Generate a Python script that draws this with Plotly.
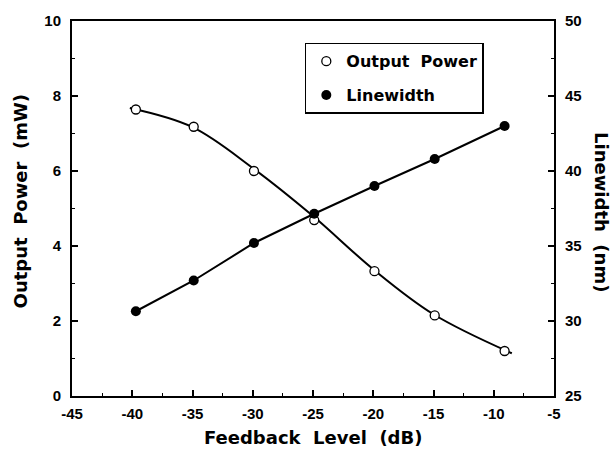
import plotly.graph_objects as go

# ---- data ----
feedback_db = [-39.7, -34.9, -29.9, -24.9, -19.9, -14.9, -9.1]
output_power = [7.64, 7.18, 6.00, 4.69, 3.33, 2.15, 1.20]
linewidth_nm = [30.65, 32.7, 35.2, 37.15, 39.0, 40.8, 43.0]

# smooth fitted curve through the output-power data
fit_db = [-40.2, -35.0, -30.0, -25.0, -20.0, -15.0, -8.5]
fit_power = [7.68, 7.17, 6.08, 4.80, 3.38, 2.18, 1.14]

x_ticks = [-45, -40, -35, -30, -25, -20, -15, -10, -5]
y_ticks = [0, 2, 4, 6, 8, 10]
y2_ticks = [25, 30, 35, 40, 45, 50]


def bold_labels(vals):
    return [f"<b>{v}</b>" for v in vals]


TICK_FONT = dict(family="Liberation Sans, Arial", size=15, color="black")
TITLE_FONT = dict(family="DejaVu Sans", size=18, color="black", weight="bold")
NB = "\u00a0"

fig = go.Figure()

fig.add_trace(go.Scatter(
    x=fit_db, y=fit_power, mode="lines", line=dict(color="black", width=2, shape="spline", smoothing=1.0),
    showlegend=False, hoverinfo="skip"))
fig.add_trace(go.Scatter(
    x=feedback_db, y=linewidth_nm, yaxis="y2", mode="lines", line=dict(color="black", width=2),
    showlegend=False, hoverinfo="skip"))

fig.add_trace(go.Scatter(
    x=feedback_db, y=output_power, mode="markers", name=f"Output{NB} Power",
    marker=dict(symbol="circle", size=9, color="white", line=dict(color="black", width=1.3)),
    legendgroup="a"))
fig.add_trace(go.Scatter(
    x=feedback_db, y=linewidth_nm, yaxis="y2", mode="markers", name="Linewidth",
    marker=dict(symbol="circle", size=10, color="black", line=dict(color="black", width=0)),
    legendgroup="b"))

common_axis = dict(
    showgrid=False, zeroline=False, showline=True, linecolor="black", linewidth=2,
    ticks="inside", ticklen=6, tickwidth=1.5, tickcolor="black", tickfont=TICK_FONT,
)

fig.update_layout(
    width=611, height=454,
    margin=dict(l=72, r=57, t=14, b=58),
    paper_bgcolor="white", plot_bgcolor="white",
    xaxis=dict(range=[-45, -5], tickvals=x_ticks, ticktext=bold_labels(x_ticks), mirror=True,
               ticklabelstandoff=3,
               minor=dict(dtick=2.5, tick0=-45, ticks="inside", ticklen=3, tickcolor="black", tickwidth=1.2),
               **common_axis),
    yaxis=dict(range=[0, 10], tickvals=y_ticks, ticktext=bold_labels(y_ticks), ticklabelstandoff=6,
               minor=dict(dtick=1, tick0=0, ticks="inside", ticklen=3, tickcolor="black", tickwidth=1.2),
               **common_axis),
    yaxis2=dict(range=[25, 50], tickvals=y2_ticks, ticktext=bold_labels(y2_ticks),
                overlaying="y", side="right", ticklabelstandoff=6,
                minor=dict(dtick=2.5, tick0=25, ticks="inside", ticklen=3, tickcolor="black", tickwidth=1.2),
                **common_axis),
    legend=dict(x=0.483, y=0.942, xanchor="left", yanchor="top",
                bgcolor="white", bordercolor="black", borderwidth=1.5,
                font=dict(family="DejaVu Sans", size=16, color="black", weight="bold"),
                tracegroupgap=10, itemwidth=30),
    annotations=[
        dict(text=f"Feedback{NB} Level{NB} (dB)", x=0.5, y=-0.11, xref="paper", yref="paper",
             xanchor="center", yanchor="middle", showarrow=False, font=TITLE_FONT),
        dict(text=f"Output{NB} Power{NB} (mW)", x=-0.107, y=0.52, xref="paper", yref="paper",
             xanchor="center", yanchor="middle", showarrow=False, textangle=-90, font=TITLE_FONT),
        dict(text=f"Linewidth{NB} (nm)", x=1.10, y=0.49, xref="paper", yref="paper",
             xanchor="center", yanchor="middle", showarrow=False, textangle=90, font=TITLE_FONT),
    ],
)

fig.write_html("out.html")
